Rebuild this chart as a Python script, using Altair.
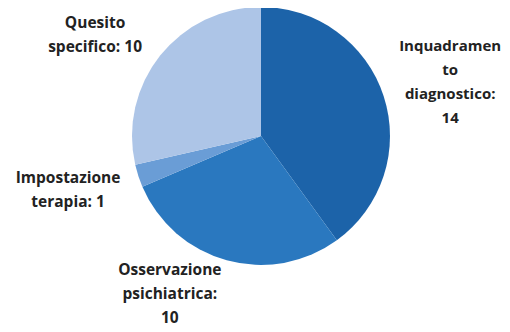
import altair as alt
import pandas as pd

categories = ["Inquadramento diagnostico", "Osservazione psichiatrica", "Impostazione terapia", "Quesito specifico"]
values = [14, 10, 1, 10]
labels = ["Inquadramen\nto\ndiagnostico:\n14", "Osservazione\npsichiatrica:\n10", "Impostazione\nterapia: 1", "Quesito\nspecifico: 10"]
colors = ["#1c63a9", "#2a78bf", "#6a9dd6", "#adc5e7"]

df = pd.DataFrame({"cat": categories, "value": values, "label": labels, "order": list(range(len(values)))})

CX, CY = 253, 128

base = alt.Chart(df).encode(
    theta=alt.Theta("value:Q", stack=True),
    order=alt.Order("order:Q"),
    x=alt.value(CX),
    y=alt.value(CY),
)

pie = base.mark_arc(outerRadius=129).encode(
    color=alt.Color("cat:N", scale=alt.Scale(domain=categories, range=colors), legend=None)
)

# label placement (radius, dx, dy, font size) per category
placements = {
    "Inquadramento diagnostico": (201, -2, -28, 15),
    "Osservazione psichiatrica": (166, -47, -26, 15.5),
    "Impostazione terapia": (185, -17, -15, 15.5),
    "Quesito specifico": (170, -33, -7, 15.5),
}

layers = [pie]
for cat, (r, dx, dy, fs) in placements.items():
    t = base.transform_calculate(
        txt=f"datum.cat == '{cat}' ? datum.label : ''"
    ).mark_text(
        radius=r, dx=dx, dy=dy, lineBreak="\n", lineHeight=24,
        font="Open Sans", fontWeight="bold", fontSize=fs,
        color="#222222", align="center", baseline="middle",
    ).encode(text="txt:N")
    layers.append(t)

chart = alt.layer(*layers).properties(
    width=494, height=322, padding=0, autosize="none"
).configure_view(stroke=None)

chart.save("out.html", embed_options={"renderer": "svg", "actions": False})
